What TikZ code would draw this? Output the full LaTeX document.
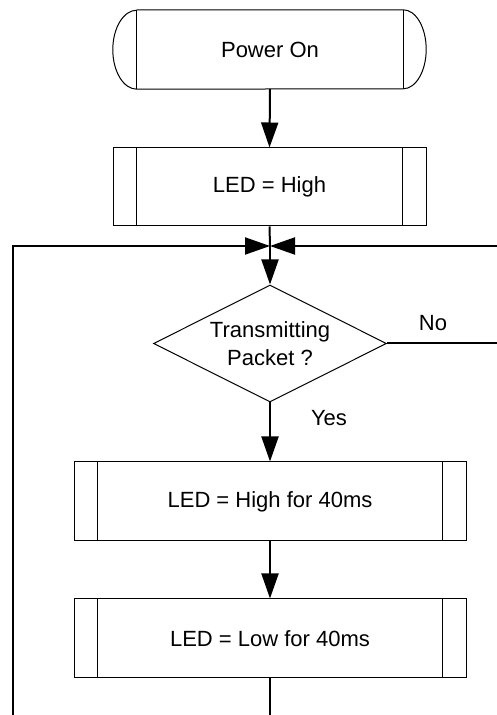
\documentclass[tikz,border=0pt]{standalone}
\usepackage{fontspec}
\setmainfont{Liberation Sans}
\usetikzlibrary{arrows.meta,shapes.geometric}
\begin{document}
\begin{tikzpicture}[x=1pt,y=1pt,
  every node/.style={font=\fontsize{22}{28}\selectfont, inner sep=0pt},
  subproc/.style={draw, line width=1pt, minimum width=313pt, minimum height=78pt},
  wideproc/.style={draw, line width=1pt, minimum width=392pt, minimum height=79pt},
  termbox/.style={minimum width=266pt, minimum height=79pt},
  decision/.style={draw, line width=1pt, shape=diamond, aspect=2, minimum width=233pt, minimum height=117pt, align=center},
  lbl/.style={},
  conn/.style={line width=2pt},
  arr/.style={conn, -{Triangle[length=25pt,width=17pt]}}
]
\useasboundingbox (0,0) rectangle (497,715);

% nodes
\node[termbox] (power) at (270,665.5) {Power On};
\node[subproc] (ledhigh) at (269.5,528) {LED = High};
\node[decision] (dec) at (270,371.5) {Transmitting\\Packet ?};
\node[wideproc] (ledh40) at (270,213.5) {LED = High for 40ms};
\node[wideproc] (ledl40) at (270,76.5) {LED = Low for 40ms};
\node[lbl] (no) at (433,392) {No};
\node[lbl] (yes) at (329,297) {Yes};

% terminator outline
\draw[line width=1pt] (power.north west) -- (power.north east)
  arc[start angle=90, end angle=-90, x radius=23pt, y radius=39.5pt]
  -- (power.south west)
  arc[start angle=270, end angle=90, x radius=24pt, y radius=39.5pt];
\draw[line width=1pt] (power.north west) -- (power.south west);
\draw[line width=1pt] (power.north east) -- (power.south east);

% inner lines of predefined-process boxes
\foreach \n in {ledhigh,ledh40,ledl40}{
  \draw[line width=1pt] ([xshift=24pt]\n.north west) -- ([xshift=24pt]\n.south west);
  \draw[line width=1pt] ([xshift=-24pt]\n.north east) -- ([xshift=-24pt]\n.south east);
}

% coordinates
\coordinate (j) at (270,469);
\coordinate (lc) at (13,469);
\coordinate (bl) at (13,0);
\coordinate (rc) at (499,469);
\coordinate (nr) at (499,371.5);
\coordinate (bot) at (270,0);

% connectors
\draw[arr] (power.south) -- (ledhigh.north);
\draw[conn] (ledhigh.south) -- (j);
\draw[arr] (j) -- (dec.north);
\draw[arr] (bl) -- (lc) -- (j);
\draw[arr] (dec.east) -- (nr) -- (rc) -- (j);
\draw[arr] (dec.south) -- (ledh40.north);
\draw[arr] (ledh40.south) -- (ledl40.north);
\draw[conn] (ledl40.south) -- (bot);
\end{tikzpicture}
\end{document}
